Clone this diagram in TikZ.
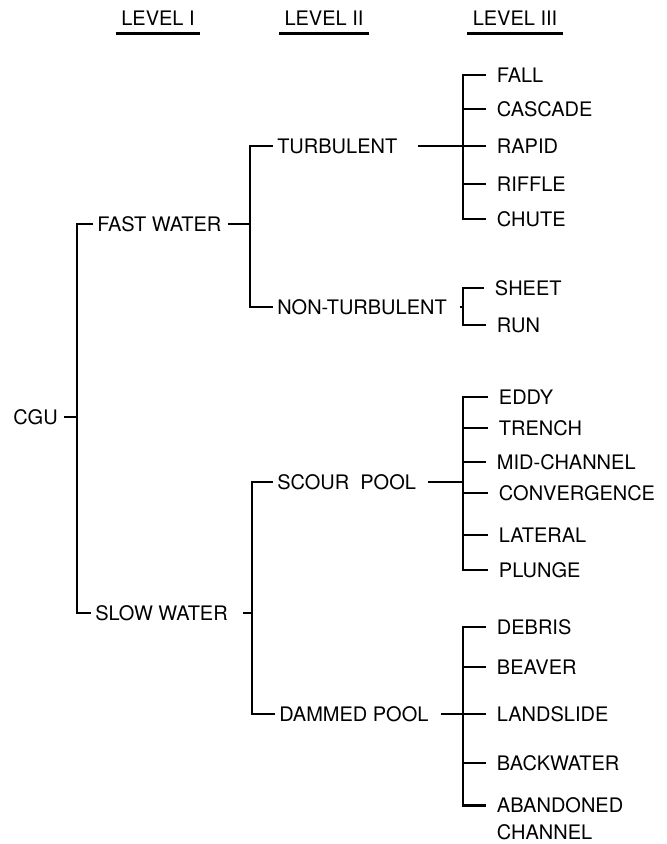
\documentclass[tikz,border=0pt]{standalone}
\usepackage{fontspec}
\setmainfont{TeX Gyre Heros}
\begin{document}
\begin{tikzpicture}[x=0.75pt,y=-0.75pt,font=\fontsize{15}{20}\selectfont]
    \tikzstyle{tree}=[line width=2.2pt]
    \tikzstyle{head}=[inner xsep=4pt, inner ysep=0pt]
    \tikzstyle{mid}=[anchor=west, inner xsep=3pt]
    \tikzstyle{leaf}=[anchor=west, inner xsep=8pt]
    \useasboundingbox (0,0) rectangle (667,844);
    % headings
    \node[head] (h1) at (158,18){LEVEL I};
    \node[head] (h2) at (324,18){LEVEL II};
    \node[head] (h3) at (515,18){LEVEL III};
    \foreach \h in {h1,h2,h3}
      \draw[tree] ([yshift=-6pt]\h.south west) -- ([yshift=-6pt]\h.south east);
    % level I
    \node[anchor=east, inner xsep=3pt] (cgu) at (62,417){CGU};
    \node[mid] (fast) at (93,224){FAST WATER};
    \node[mid] (slow) at (91,613){SLOW WATER};
    % level II
    \node[mid] (turb) at (273,146){TURBULENT};
    \node[mid] (nont) at (273,307){NON-TURBULENT};
    \node[mid] (scour) at (273,482){SCOUR\ \ POOL};
    \node[mid] (dam) at (275,714){DAMMED POOL};
    % level III
    \node[leaf] (fall) at (486,75){FALL};
    \node[leaf] (casc) at (486,109){CASCADE};
    \node[leaf] (rapid) at (486,146){RAPID};
    \node[leaf] (riff) at (486,184){RIFFLE};
    \node[leaf] (chute) at (486,219){CHUTE};
    \node[leaf] (sheet) at (484,288){SHEET};
    \node[leaf] (run) at (486,325){RUN};
    \node[leaf] (eddy) at (488,397){EDDY};
    \node[leaf] (trench) at (488,428){TRENCH};
    \node[leaf] (midch) at (486,462){MID-CHANNEL};
    \node[leaf] (conv) at (488,493){CONVERGENCE};
    \node[leaf] (lat) at (488,535){LATERAL};
    \node[leaf] (plunge) at (488,570){PLUNGE};
    \node[leaf] (debris) at (486,627){DEBRIS};
    \node[leaf] (beaver) at (486,667){BEAVER};
    \node[leaf] (land) at (486,714){LANDSLIDE};
    \node[leaf] (back) at (486,763){BACKWATER};
    \node[leaf, align=left] (aband) at (486,818.5){ABANDONED\\CHANNEL};
    \coordinate (ab) at ([yshift=10pt]aband.west);
    % bracket lines
    \coordinate (b0) at (77,0);
    \coordinate (b1) at (250,0);
    \coordinate (b2) at (252,0);
    \coordinate (b3) at (463,0);
    \draw[tree] (fast.west) -- (fast.west -| b0) -- (slow.west -| b0) -- (slow.west);
    \draw[tree] ([xshift=1.5pt]cgu.east) -- (cgu.east -| b0);
    \draw[tree] (turb.west) -- (turb.west -| b1) -- (nont.west -| b1) -- (nont.west);
    \draw[tree] ([xshift=1.5pt]fast.east) -- (fast.east -| b1);
    \draw[tree] (scour.west) -- (scour.west -| b2) -- (dam.west -| b2) -- (dam.west);
    \draw[tree] ([xshift=8pt]slow.east) -- (slow.east -| b2);
    \draw[tree] (fall.west) -- (fall.west -| b3) -- (chute.west -| b3) -- (chute.west);
    \foreach \n in {casc,riff}
      \draw[tree] (\n.west -| b3) -- (\n.west);
    \draw[tree] ([xshift=12.5pt]turb.east) -- (rapid.west);
    \draw[tree] (sheet.west) -- (sheet.west -| b3) -- (run.west -| b3) -- (run.west);
    \draw[tree] ([xshift=6.5pt]nont.east) -- (nont.east -| b3);
    \draw[tree] (eddy.west) -- (eddy.west -| b3) -- (plunge.west -| b3) -- (plunge.west);
    \foreach \n in {trench,midch,conv,lat}
      \draw[tree] (\n.west -| b3) -- (\n.west);
    \draw[tree] ([xshift=6pt]scour.east) -- (scour.east -| b3);
    \draw[tree] (debris.west) -- (debris.west -| b3) -- (ab -| b3) -- (ab);
    \foreach \n in {beaver,back}
      \draw[tree] (\n.west -| b3) -- (\n.west);
    \draw[tree] ([xshift=6pt]dam.east) -- (land.west);
\end{tikzpicture}
\end{document}
